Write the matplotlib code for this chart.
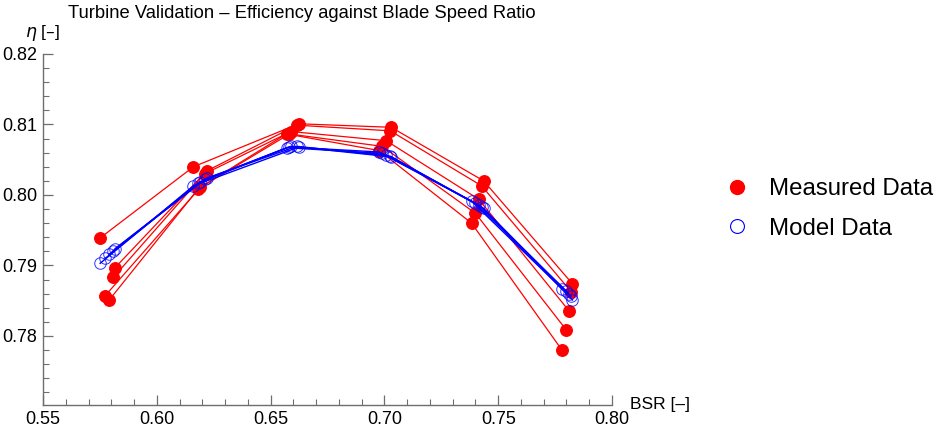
import matplotlib
matplotlib.use("Agg")
import matplotlib.pyplot as plt
from matplotlib.lines import Line2D
from matplotlib.ticker import MultipleLocator

plt.rcParams['font.family'] = ['Liberation Sans', 'DejaVu Sans']

# Blade speed ratio per series (one row per test series, six operating points)
bsr = [
    [0.5751, 0.6161, 0.6624, 0.7030, 0.7436, 0.7826],
    [0.5817, 0.6219, 0.6615, 0.7026, 0.7427, 0.7820],
    [0.5809, 0.6210, 0.6589, 0.7008, 0.7414, 0.7810],
    [0.5773, 0.6192, 0.6571, 0.6990, 0.7400, 0.7798],
    [0.5791, 0.6183, 0.6580, 0.6977, 0.7383, 0.7780],
]
eta_measured = [
    [0.7939, 0.8040, 0.8101, 0.8096, 0.8020, 0.7874],
    [0.7897, 0.8034, 0.8099, 0.8091, 0.8013, 0.7863],
    [0.7883, 0.8030, 0.8090, 0.8077, 0.7994, 0.7836],
    [0.7857, 0.8011, 0.8087, 0.8069, 0.7974, 0.7809],
    [0.7851, 0.8009, 0.8086, 0.8063, 0.7960, 0.7780],
]
eta_model = [
    [0.7903, 0.8013, 0.8068, 0.8054, 0.7981, 0.7851],
    [0.7924, 0.8024, 0.8069, 0.8055, 0.7983, 0.7856],
    [0.7921, 0.8022, 0.8069, 0.8057, 0.7986, 0.7860],
    [0.7910, 0.8019, 0.8067, 0.8059, 0.7988, 0.7864],
    [0.7916, 0.8017, 0.8068, 0.8061, 0.7991, 0.7867],
]
x_ticks = [0.55, 0.60, 0.65, 0.70, 0.75, 0.80]
y_ticks = [0.78, 0.79, 0.80, 0.81, 0.82]

W, H = 945, 428
fig = plt.figure(figsize=(W / 100, H / 100), dpi=100)
ax_left, ax_right, ax_top, ax_bottom = 43, 612, 54, 405
ax = fig.add_axes([ax_left / W, 1 - ax_bottom / H, (ax_right - ax_left) / W, (ax_bottom - ax_top) / H])

red = '#ff0000'
blue = '#0000ff'
for xs, ys in zip(bsr, eta_measured):
    ax.plot(xs, ys, color=red, lw=0.9, zorder=2)
for xs, ys in zip(bsr, eta_measured):
    ax.plot(xs, ys, 'o', color=red, ms=8.3, mec=red, zorder=3, ls='none')
for xs, ys in zip(bsr, eta_model):
    ax.plot(xs, ys, color=blue, lw=1.0, zorder=4)
for xs, ys in zip(bsr, eta_model):
    ax.plot(xs, ys, 'o', mfc='none', mec=blue, mew=0.7, ms=8.3, zorder=5, ls='none', alpha=0.8)

ax.set_xlim(0.55, 0.80)
ax.set_ylim(0.7702, 0.82)
ax.set_xticks(x_ticks)
ax.set_xticklabels([f'{v:.2f}' for v in x_ticks])
ax.set_yticks(y_ticks)
ax.set_yticklabels([f'{v:.2f}' for v in y_ticks])
ax.xaxis.set_minor_locator(MultipleLocator(0.01))
ax.yaxis.set_minor_locator(MultipleLocator(0.002))

axis_col = '#6e6e6e'
for s in ['top', 'right']:
    ax.spines[s].set_visible(False)
for s in ['left', 'bottom']:
    ax.spines[s].set_color(axis_col)
    ax.spines[s].set_linewidth(1.0)
ax.tick_params(which='major', direction='in', length=7, width=0.9, color=axis_col,
               labelsize=13, labelcolor='black', pad=4)
ax.tick_params(which='minor', direction='in', length=4, width=0.8, color=axis_col)
ax.patch.set_visible(False)

fig.text(68 / W, 1 - 13 / H, 'Turbine Validation \u2013 Efficiency against Blade Speed Ratio',
         fontsize=13.2, ha='left', va='center')
fig.text(60 / W, 1 - 33 / H, '$\\eta$ [\u2013]', fontsize=12.5, ha='right', va='center')
fig.text(630 / W, 1 - 404 / H, 'BSR [\u2013]', fontsize=12.5, ha='left', va='center')

handles = [
    Line2D([], [], marker='o', ls='none', color=red, ms=10),
    Line2D([], [], marker='o', ls='none', mfc='none', mec=blue, mew=0.8, ms=10),
]
fig.legend(handles, ['Measured Data', 'Model Data'], loc='center left',
           bbox_to_anchor=(703 / W, 1 - 209 / H), frameon=False, fontsize=17.3,
           handletextpad=0.85, labelspacing=0.72, handlelength=1.0)

fig.savefig('out.png', dpi=100)
